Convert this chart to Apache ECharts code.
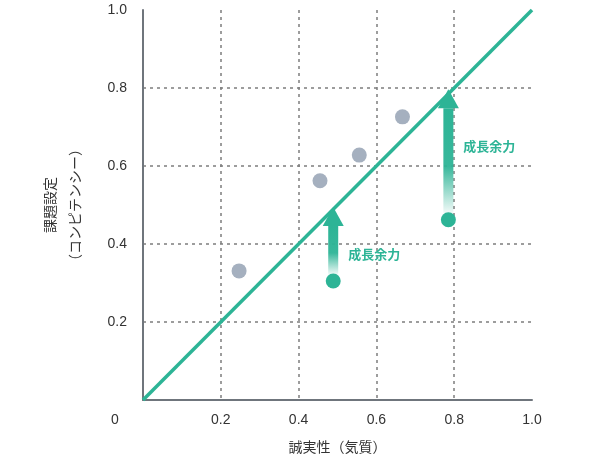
<!DOCTYPE html>
<html><head><meta charset="utf-8">
<script src="https://cdn.jsdelivr.net/npm/echarts@6/dist/echarts.min.js"></script>
<style>html,body{margin:0;padding:0;background:#fff;}#c{width:590px;height:464px;}</style>
</head><body><div id="c"></div>
<script>
// ---- data ----
var xTicks = [0, 0.2, 0.4, 0.6, 0.8, 1.0];
var xAxisName = '誠実性（気質）';
var yAxisName = '課題設定\n（コンピテンシー）';
var diagonalX = [0, 1];
var diagonalY = [0, 1];
var grayX = [0.247, 0.455, 0.556, 0.667];
var grayY = [0.331, 0.562, 0.628, 0.726];
var greenX = [0.489, 0.785];
var greenY = [0.305, 0.462];
var arrowTo = [0.495, 0.797];
var annotationText = ['成長余力', '成長余力'];
var annotationY = [0.370, 0.648];

var TEAL = '#2db496';
var FONT = "'Liberation Sans','Noto Sans CJK JP',sans-serif";
var TEXT = '#333333';

var chart = echarts.init(document.getElementById('c'), null, {renderer: 'canvas'});

var arrowData = greenX.map(function (x, i) {
  return [x, greenY[i], arrowTo[i], annotationY[i], annotationText[i]];
});

function renderArrow(params, api) {
  var x = api.value(0);
  var p0 = api.coord([x, api.value(1)]);
  var p1 = api.coord([x, api.value(2)]);
  var lp = api.coord([x, api.value(3)]);
  var cx = p0[0];
  var headH = 19, headW = 21, shaftW = 10;
  var shaftTop = p1[1] + headH;
  var shaftBottom = p0[1] - 6;
  return {
    type: 'group',
    children: [
      {
        type: 'rect',
        shape: {x: cx - shaftW / 2, y: shaftTop, width: shaftW, height: shaftBottom - shaftTop},
        style: {
          fill: new echarts.graphic.LinearGradient(0, 0, 0, 1, [
            {offset: 0, color: 'rgba(45,180,150,1)'},
            {offset: 0.55, color: 'rgba(45,180,150,0.95)'},
            {offset: 1, color: 'rgba(45,180,150,0.05)'}
          ])
        }
      },
      {
        type: 'polygon',
        shape: {points: [[cx, p1[1]], [cx - headW / 2, shaftTop], [cx + headW / 2, shaftTop]]},
        style: {fill: TEAL}
      },
      {
        type: 'text',
        style: {
          text: api.value(4),
          x: cx + 15, y: lp[1],
          verticalAlign: 'middle', align: 'left',
          fill: TEAL, fontSize: 13, fontWeight: 'bold', fontFamily: FONT
        }
      }
    ]
  };
}

var option = {
  backgroundColor: '#fff',
  animation: false,
  grid: {left: 143, right: 58, top: 10, bottom: 64, containLabel: false},
  xAxis: {
    type: 'value', min: 0, max: 1, interval: 0.2,
    name: xAxisName, nameLocation: 'middle', nameGap: 41,
    nameTextStyle: {fontSize: 14, color: TEXT, fontFamily: FONT},
    axisLine: {show: true, lineStyle: {color: '#6f757c', width: 2}},
    axisTick: {show: false},
    axisLabel: {
      margin: 13, fontSize: 14, color: TEXT, fontFamily: FONT,
      formatter: function (v) { return v === 0 ? '{z|0}' : v.toFixed(1); },
      rich: {z: {padding: [0, 56, 0, 0], fontSize: 14, color: TEXT, fontFamily: FONT}}
    },
    splitLine: {show: true, showMinLine: false, showMaxLine: false,
      lineStyle: {color: '#7d7d7d', width: 1.5, type: [3, 4]}}
  },
  yAxis: {
    type: 'value', min: 0, max: 1, interval: 0.2,
    name: yAxisName, nameLocation: 'middle', nameGap: 54, nameRotate: 90,
    nameTextStyle: {fontSize: 14, color: TEXT, fontFamily: FONT, lineHeight: 25},
    axisLine: {show: true, lineStyle: {color: '#6f757c', width: 2}},
    axisTick: {show: false},
    axisLabel: {margin: 16, fontSize: 14, color: TEXT, fontFamily: FONT, showMinLabel: false,
      formatter: function (v) { return v.toFixed(1); }},
    splitLine: {show: true, showMinLine: false, showMaxLine: false,
      lineStyle: {color: '#7d7d7d', width: 1.5, type: [3, 4]}}
  },
  series: [
    {
      type: 'line', data: diagonalX.map(function (x, i) { return [x, diagonalY[i]]; }),
      symbol: 'none', lineStyle: {color: TEAL, width: 3.5}, z: 3
    },
    {
      type: 'scatter', data: grayX.map(function (x, i) { return [x, grayY[i]]; }),
      symbolSize: 15, itemStyle: {color: '#a5b0bf', opacity: 1}, z: 4
    },
    {
      type: 'custom', data: arrowData, renderItem: renderArrow, z: 5,
      encode: {x: 0, y: [1, 2]}
    },
    {
      type: 'scatter', data: greenX.map(function (x, i) { return [x, greenY[i]]; }),
      symbolSize: 15, itemStyle: {color: TEAL, opacity: 1}, z: 6
    }
  ]
};
chart.setOption(option);
</script>
</body></html>
